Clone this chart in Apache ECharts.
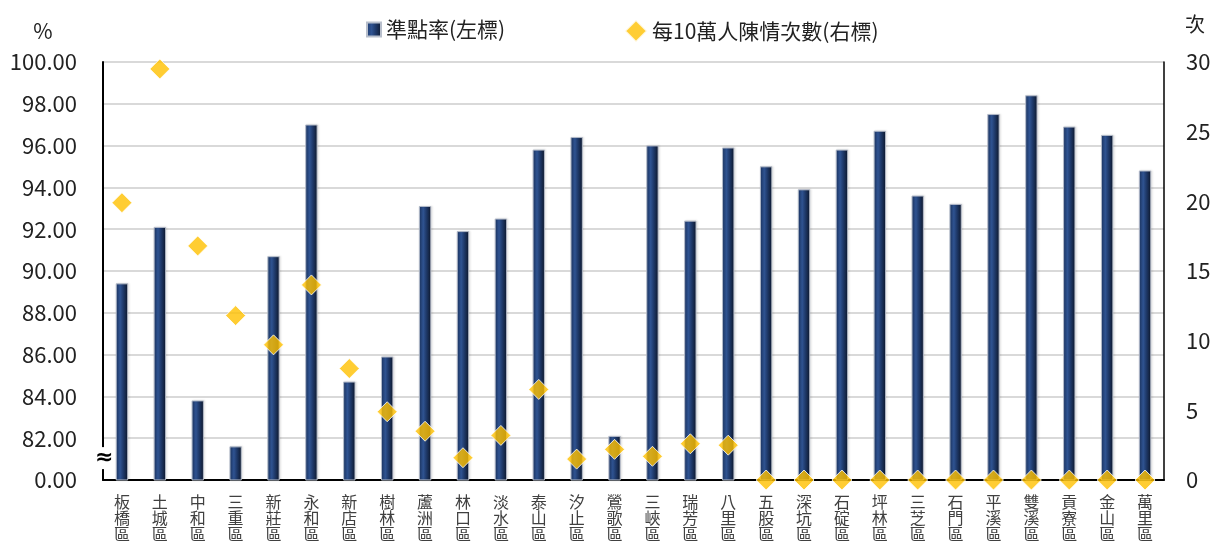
<!DOCTYPE html>
<html>
<head>
<meta charset="utf-8">
<script src="https://cdn.jsdelivr.net/npm/echarts@6/dist/echarts.min.js"></script>
<style>
  html, body { margin: 0; padding: 0; background: #fff; }
  #chart { width: 1214px; height: 542px; }
</style>
</head>
<body>
<div id="chart"></div>
<script>
const districts = ['板橋區', '土城區', '中和區', '三重區', '新莊區', '永和區', '新店區', '樹林區', '蘆洲區', '林口區',
  '淡水區', '泰山區', '汐止區', '鶯歌區', '三峽區', '瑞芳區', '八里區', '五股區', '深坑區', '石碇區',
  '坪林區', '三芝區', '石門區', '平溪區', '雙溪區', '貢寮區', '金山區', '萬里區'];

// 準點率 (%)
const onTimeRate = [89.4, 92.1, 83.8, 81.6, 90.7, 97.0, 84.7, 85.9, 93.1, 91.9,
  92.5, 95.8, 96.4, 82.1, 96.0, 92.4, 95.9, 95.0, 93.9, 95.8,
  96.7, 93.6, 93.2, 97.5, 98.4, 96.9, 96.5, 94.8];

// 每10萬人陳情次數
const complaints = [19.9, 29.5, 16.8, 11.8, 9.7, 14.0, 8.0, 4.9, 3.5, 1.6,
  3.2, 6.5, 1.5, 2.2, 1.7, 2.6, 2.5, 0, 0, 0,
  0, 0, 0, 0, 0, 0, 0, 0];

const FONT = '"Noto Sans CJK TC", "Noto Sans", sans-serif';
const chart = echarts.init(document.getElementById('chart'));

const barColor = new echarts.graphic.LinearGradient(0, 0, 1, 0, [
  { offset: 0, color: '#1f3a6b' },
  { offset: 0.35, color: '#2f5391' },
  { offset: 0.6, color: '#1f3a6b' },
  { offset: 1, color: '#0d172b' }
]);

const legendText = { fontSize: 21, color: '#222', fontFamily: FONT };

chart.setOption({
  animation: false,
  textStyle: { fontFamily: FONT },
  grid: { left: 103, right: 50, top: 62, bottom: 62 },
  legend: [
    {
      top: 14,
      left: 361,
      itemWidth: 14,
      itemHeight: 14,
      itemGap: 5,
      textStyle: legendText,
      data: [{ name: '準點率(左標)', icon: 'rect' }]
    },
    {
      top: 14,
      left: 619,
      itemWidth: 22,
      itemHeight: 22,
      textStyle: legendText,
      data: [{ name: '每10萬人陳情次數(右標)', icon: 'diamond' }]
    }
  ],
  xAxis: {
    type: 'category',
    data: districts,
    axisLine: { lineStyle: { color: '#000', width: 2 } },
    axisTick: { show: false },
    axisLabel: {
      interval: 0,
      fontSize: 16,
      lineHeight: 16,
      color: '#404040',
      margin: 14,
      formatter: v => v.split('').join('\n')
    }
  },
  yAxis: [
    {
      type: 'value',
      min: 80,
      max: 100,
      interval: 2,
      name: '%',
      nameLocation: 'end',
      nameGap: 20,
      nameTextStyle: { fontSize: 21, color: '#222', padding: [0, 120, 0, 0] },
      axisLine: { show: true, lineStyle: { color: '#000', width: 2 } },
      axisTick: { show: false },
      axisLabel: {
        fontSize: 22,
        color: '#222',
        margin: 26,
        formatter: v => (v === 80 ? '0.00' : v.toFixed(2))
      },
      splitLine: { lineStyle: { color: '#d9d9d9', width: 2 } }
    },
    {
      type: 'value',
      min: 0,
      max: 30,
      interval: 5,
      name: '次',
      nameLocation: 'end',
      nameGap: 28,
      nameTextStyle: { fontSize: 20, color: '#222', padding: [0, 0, 0, 62] },
      axisLine: { show: true, lineStyle: { color: '#000', width: 1.5 } },
      axisTick: { show: false },
      axisLabel: { fontSize: 22, color: '#222', margin: 22 },
      splitLine: { show: false }
    }
  ],
  series: [
    {
      name: '準點率(左標)',
      type: 'bar',
      yAxisIndex: 0,
      data: onTimeRate,
      barWidth: 12,
      itemStyle: {
        color: barColor,
        borderColor: '#b8bfcc',
        borderWidth: 0.6,
        shadowColor: 'rgba(0,0,0,0.25)',
        shadowBlur: 2,
        shadowOffsetX: 1
      },
      z: 2
    },
    {
      name: '每10萬人陳情次數(右標)',
      type: 'scatter',
      yAxisIndex: 1,
      data: complaints,
      symbol: 'diamond',
      symbolSize: [20, 20],
      itemStyle: { color: '#ffc000', borderColor: '#fff', borderWidth: 1 },
      z: 5
    }
  ]
});

// axis break mark on the left axis
const breakY = chart.convertToPixel({ yAxisIndex: 0 }, 81);
const axisX = 103;
chart.setOption({
  graphic: [{
    type: 'text',
    left: axisX - 8,
    top: breakY - 12,
    z: 10,
    style: {
      text: '≈',
      fontSize: 22,
      fontWeight: 'bold',
      fill: '#000',
      backgroundColor: '#fff',
      fontFamily: 'DejaVu Sans'
    }
  }]
});
</script>
</body>
</html>
